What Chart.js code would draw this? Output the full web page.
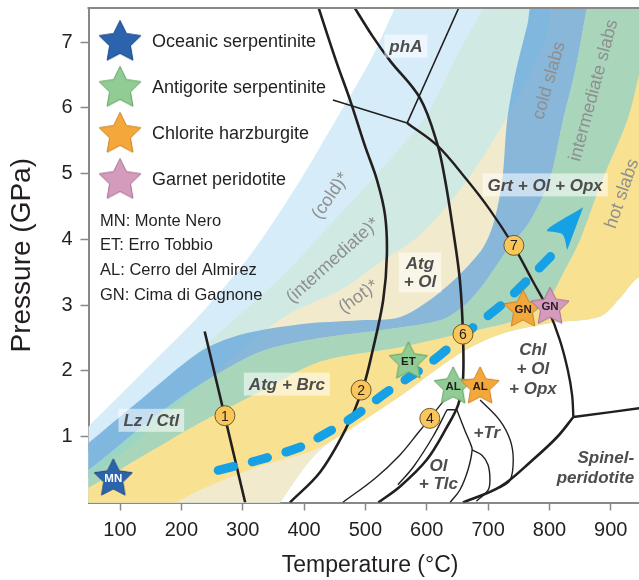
<!DOCTYPE html>
<html>
<head>
<meta charset="utf-8">
<script src="https://cdn.jsdelivr.net/npm/chart.js@4.4.1/dist/chart.umd.min.js"></script>
<style>
  html, body { margin: 0; padding: 0; background: #fff; }
</style>
</head>
<body>
<canvas id="ptChart" width="639" height="580"></canvas>
<script>
'use strict';

// Axis ticks
const tempTicks = [100, 200, 300, 400, 500, 600, 700, 800, 900];
const pressTicks = [1, 2, 3, 4, 5, 6, 7];

// Rock types (legend) and localities
const rockNames = ['Oceanic serpentinite', 'Antigorite serpentinite', 'Chlorite harzburgite', 'Garnet peridotite'];
const rockFill = ['#2b63ad', '#90cc94', '#f4a83c', '#d59bbd'];
const rockEdge = ['#1d4a86', '#62a266', '#c98322', '#a76f90'];
const rockKeyT = [100, 100, 100, 100];
const rockKeyP = [7.03, 6.33, 5.63, 4.93];
const localityNames = ['MN: Monte Nero', 'ET: Erro Tobbio', 'AL: Cerro del Almirez', 'GN: Cima di Gagnone'];
const localityKeyP = [4.29, 3.93, 3.55, 3.17];

// Samples (stars)
const sampleCodes = ['MN', 'ET', 'AL', 'AL', 'GN', 'GN'];
const sampleRock = [0, 1, 1, 2, 2, 3];
const sampleT = [89, 570, 643, 687, 757, 801];
const sampleP = [0.39, 2.17, 1.79, 1.79, 2.96, 3.0];

// Numbered reactions
const reactionNo = [1, 2, 4, 6, 7];
const reactionT = [271, 493, 605, 659, 742];
const reactionP = [1.32, 1.71, 1.28, 2.56, 3.91];

// Geotherm bands (*), boundaries from low T upwards  [T, P]
const coldStarTop = [[-30, 0.42], [48, 1.15], [149, 2.09], [230, 2.85], [312, 3.76], [389, 4.83], [459, 5.93], [508, 6.72], [548, 7.52], [556, 7.71]];
const interStarTop = [[-30, 0.11], [48, 0.77], [149, 1.63], [230, 2.32], [361, 3.41], [442, 4.22], [524, 5.05], [594, 5.81], [622, 6.27], [654, 6.88], [692, 7.52], [698, 7.71]];
const hotStarTop = [[-30, -0.04], [48, 0.37], [149, 1.1], [230, 1.79], [312, 2.42], [372, 2.85], [459, 3.23], [519, 3.62], [589, 4.07], [666, 4.9], [747, 6.12], [793, 7.03], [817, 7.71]];
const hotStarBase = [[-30, -0.57], [336, -0.42], [361, 0], [426, 0.8], [557, 1.62], [654, 2.27], [720, 2.56], [801, 2.73], [883, 2.83], [915, 3.11], [946, 3.43], [1045, 3.84], [1045, 7.71]];

// Slab top P-T paths (cold / intermediate / hot)
const coldSlabTop = [[-30, 0.27], [48, 0.9], [133, 1.56], [230, 2.29], [296, 2.55], [394, 2.71], [491, 2.77], [557, 2.82], [622, 3.2], [687, 3.81], [708, 4.22], [723, 4.9], [731, 5.81], [744, 6.5], [764, 7.26], [777, 7.71]];
const interSlabTop = [[-30, 0.04], [48, 0.49], [149, 1.25], [230, 1.79], [328, 2.29], [426, 2.5], [524, 2.62], [622, 2.77], [662, 3.0], [695, 3.35], [731, 3.84], [769, 4.29], [801, 4.93], [822, 5.81], [842, 6.57], [861, 7.52], [865, 7.71]];
const hotSlabTop = [[-30, -0.11], [48, 0.22], [149, 0.77], [230, 1.21], [328, 1.68], [426, 2.14], [557, 2.36], [662, 2.58], [736, 2.74], [777, 2.9], [801, 3.11], [825, 3.53], [850, 3.99], [886, 4.9], [927, 5.81], [948, 6.57], [972, 7.52], [977, 7.71]];
const hotSlabBase = [[-30, -0.57], [149, -0.19], [230, 0.19], [328, 0.55], [426, 0.84], [557, 1.62], [654, 2.27], [720, 2.56], [801, 2.73], [883, 2.83], [915, 3.11], [946, 3.43], [1045, 3.84], [1045, 7.71]];

// Reaction curves [T, P]
const rxn1 = [[238, 2.6], [304, 0]];
const rxn2 = [[421, 7.6], [452, 6.72], [475, 6.12], [499, 5.43], [519, 4.9], [532, 4.37], [535, 3.76], [529, 3.08], [512, 2.32], [495, 1.71], [467, 1.1], [426, 0.46], [377, 0]];
const atgOut = [[480, 7.56], [511, 7.1], [540, 6.72], [589, 6.15], [617, 5.46], [630, 4.9], [643, 4.14], [654, 3.38], [659, 2.56], [659, 1.86], [651, 1.48], [633, 1.15], [600, 0.65], [556, 0.24], [521, 0]];
const phaOut = [[654, 7.56], [568, 5.77]];
const rxnThinTop = [[447, 6.12], [568, 5.77]];
const rxn7 = [[568, 5.77], [617, 5.43], [666, 4.9], [703, 4.45], [741, 3.91], [772, 3.38], [798, 2.93], [817, 2.47], [830, 2.01], [837, 1.63], [839, 1.3]];
const spinelHigh = [[839, 1.3], [960, 1.45]];
const spinelLow = [[839, 1.3], [813, 1.0], [773, 0.65], [720, 0.24], [659, 0]];
const rxn4 = [[638, 1.66], [622, 1.48], [605, 1.28], [586, 1.06], [556, 0.72], [516, 0.37], [463, 0]];
const tlcInner = [[633, 1.41], [610, 1.0], [578, 0.54], [553, 0.27]];
const tlcStep = [[633, 1.41], [649, 1.41]];
const trLeft = [[649, 1.41], [662, 1.1], [671, 0.9], [674, 0.8], [667, 0.49], [654, 0.19], [638, 0]];
const trRight = [[674, 0.8], [690, 0.72], [700, 0.57], [703, 0.34], [700, 0.19], [681, 0.02]];
const chlOut = [[687, 1.56], [719, 1.25], [736, 0.95], [741, 0.65], [736, 0.34], [719, 0.22]];

// Subduction path arrow
const pathT = [260, 328, 393, 426, 480, 535, 605, 666, 731, 805];
const pathP = [0.49, 0.65, 0.84, 1.0, 1.3, 1.68, 2.12, 2.59, 3.08, 3.77];
const arrowHead = [[855, 4.49], [796, 4.14], [821, 4.08], [829, 3.84]];

const FONT = "'Liberation Sans', Arial, sans-serif";
Chart.defaults.font.family = FONT;

const toXY = arr => arr.map(([x, y]) => ({x, y}));
const polygon = (lower, upper) => toXY(lower.concat(upper.slice().reverse()));

function starImage(radius, fill, stroke) {
    const size = Math.ceil(radius * 2 + 4);
    const c = document.createElement('canvas');
    c.width = size;
    c.height = size;
    const g = c.getContext('2d');
    g.translate(size / 2, size / 2 + radius * 0.1);
    g.beginPath();
    for (let i = 0; i < 10; i++) {
        const r = i % 2 ? radius * 0.5 : radius;
        const a = -Math.PI / 2 + i * Math.PI / 5;
        g.lineTo(r * Math.cos(a), r * Math.sin(a));
    }
    g.closePath();
    g.fillStyle = fill;
    g.fill();
    g.lineWidth = 1;
    g.strokeStyle = stroke;
    g.stroke();
    return c;
}
const starsSmall = rockFill.map((f, i) => starImage(20, f, rockEdge[i]));
const starsKey = rockFill.map((f, i) => starImage(22, f, rockEdge[i]));

const band = (data, color) => ({
    data: data, showLine: true, fill: 'shape', backgroundColor: color,
    borderWidth: 0, borderColor: 'transparent', pointRadius: 0, tension: 0.3
});
const curve = (data, width) => ({
    data: toXY(data), showLine: true, fill: false, borderColor: '#231f20',
    borderWidth: width, pointRadius: 0, tension: 0.35
});

// layers, bottom first
const layers = [
    band(polygon(coldStarTop, hotStarBase), '#d6ecf8'),
    band(polygon(interStarTop, hotStarBase), '#d0eae3'),
    band(polygon(hotStarTop, hotStarBase), '#f2eacd'),
    band(polygon(coldSlabTop, interSlabTop), 'rgba(100,165,220,0.75)'),
    band(polygon(interSlabTop, hotSlabTop), 'rgba(120,200,175,0.6)'),
    band(polygon(hotSlabTop, hotSlabBase), 'rgba(250,220,110,0.65)'),
    curve(rxn1, 2.6),
    curve(rxn2, 2.6),
    curve(atgOut, 2.6),
    curve(phaOut, 1.6),
    curve(rxnThinTop, 1.6),
    curve(rxn7, 2.4),
    curve(spinelHigh, 2.4),
    curve(spinelLow, 2.6),
    curve(rxn4, 1.4),
    curve(tlcInner, 1.4),
    curve(tlcStep, 1.4),
    curve(trLeft, 1.4),
    curve(trRight, 1.4),
    curve(chlOut, 1.4),
    {
        data: pathT.map((t, i) => ({x: t, y: pathP[i]})), showLine: true, fill: false,
        borderColor: '#16a1e4', borderWidth: 9, borderDash: [16, 19], borderCapStyle: 'round',
        pointRadius: 0, tension: 0.3
    },
    band(toXY(arrowHead), '#16a1e4'),
    {
        data: reactionT.map((t, i) => ({x: t, y: reactionP[i]})),
        pointRadius: 10, pointBackgroundColor: '#f8c65a', pointBorderColor: '#6f5b2b', pointBorderWidth: 1
    },
    {
        data: sampleT.map((t, i) => ({x: t, y: sampleP[i]})),
        pointRadius: 20, pointStyle: sampleRock.map(r => starsSmall[r])
    },
    {
        data: rockKeyT.map((t, i) => ({x: t, y: rockKeyP[i]})),
        pointRadius: 22, pointStyle: starsKey
    }
];
layers.forEach((d, i) => { d.order = layers.length - i; });

// text placed on the diagram
const fieldLabels = [
    {lines: ['phA'], t: 566, p: 6.94, box: true},
    {lines: ['Atg', '+ Ol'], t: 589, p: 3.5, box: true, lh: 18},
    {lines: ['Grt + Ol + Opx'], t: 793, p: 4.83, box: true},
    {lines: ['Lz / Ctl'], t: 151, p: 1.25, box: true},
    {lines: ['Atg + Brc'], t: 372, p: 1.8, box: true},
    {lines: ['Chl', '+ Ol', '+ Opx'], t: 773, p: 2.04, lh: 19.5},
    {lines: ['+Tr'], t: 698, p: 1.06},
    {lines: ['Ol', '+ Tlc'], t: 619, p: 0.43, lh: 18},
    {lines: ['Spinel-', 'peridotite'], t: 938, p: 0.54, lh: 20, align: 'right'}
];
const bandLabels = [
    {text: '(cold)*', t: 442, p: 4.67, rot: -56},
    {text: '(intermediate)*', t: 446, p: 3.69, rot: -42},
    {text: '(hot)*', t: 488, p: 3.14, rot: -36},
    {text: 'cold slabs', t: 798, p: 6.42, rot: -74},
    {text: 'intermediate slabs', t: 871, p: 6.27, rot: -75},
    {text: 'hot slabs', t: 917, p: 4.7, rot: -71}
];

function drawText(ctx, x, y, lines, o) {
    ctx.save();
    ctx.translate(x, y);
    if (o.rot) ctx.rotate(o.rot * Math.PI / 180);
    ctx.font = o.font;
    ctx.textAlign = o.align || 'center';
    ctx.textBaseline = 'middle';
    const lh = o.lh || 19;
    const h = lh * lines.length;
    if (o.box) {
        const w = Math.max(...lines.map(l => ctx.measureText(l).width));
        ctx.fillStyle = 'rgba(255,255,255,0.55)';
        ctx.fillRect(-w / 2 - 5, -h / 2 - 2, w + 10, h + 4);
    }
    ctx.fillStyle = o.color;
    lines.forEach((l, i) => ctx.fillText(l, 0, -h / 2 + lh * (i + 0.5) + 1));
    ctx.restore();
}

const annotations = {
    id: 'annotations',
    afterDatasetsDraw(chart) {
        const {ctx, chartArea, scales: {x, y}} = chart;
        const px = t => x.getPixelForValue(t);
        const py = p => y.getPixelForValue(p);

        // top frame
        ctx.save();
        ctx.strokeStyle = '#888';
        ctx.lineWidth = 2;
        ctx.beginPath();
        ctx.moveTo(chartArea.left - 1, chartArea.top);
        ctx.lineTo(chartArea.right, chartArea.top);
        ctx.stroke();
        ctx.restore();

        bandLabels.forEach(b => drawText(ctx, px(b.t), py(b.p), [b.text],
            {font: '18px ' + FONT, color: '#8f8f8f', rot: b.rot}));
        fieldLabels.forEach(f => drawText(ctx, px(f.t), py(f.p), f.lines,
            {font: 'italic bold 17px ' + FONT, color: '#4d4d4d', box: f.box, lh: f.lh, align: f.align}));

        reactionNo.forEach((n, i) => drawText(ctx, px(reactionT[i]), py(reactionP[i]), [String(n)],
            {font: '14px ' + FONT, color: '#231f20'}));
        sampleCodes.forEach((c, i) => drawText(ctx, px(sampleT[i]), py(sampleP[i]) + 1, [c],
            {font: 'bold 11.5px ' + FONT, color: sampleRock[i] === 0 ? '#fff' : '#231f20'}));

        rockNames.forEach((name, i) => drawText(ctx, px(rockKeyT[i]) + 32, py(rockKeyP[i]) + 1, [name],
            {font: '18px ' + FONT, color: '#231f20', align: 'left'}));
        localityNames.forEach((name, i) => drawText(ctx, px(rockKeyT[i]) - 20, py(localityKeyP[i]), [name],
            {font: '16.5px ' + FONT, color: '#231f20', align: 'left'}));
    }
};

const axisStyle = {
    grid: {display: true, drawOnChartArea: false, drawTicks: true, tickLength: 8, color: '#888', tickWidth: 1.5},
    border: {display: true, color: '#888', width: 2}
};

new Chart(document.getElementById('ptChart'), {
    type: 'scatter',
    data: {datasets: layers},
    options: {
        responsive: false,
        animation: false,
        events: [],
        layout: {autoPadding: false, padding: {top: 8, right: 0, left: 0, bottom: 0}},
        elements: {line: {capBezierPoints: false}},
        plugins: {legend: {display: false}, tooltip: {enabled: false}},
        scales: {
            x: {
                ...axisStyle,
                min: 48.6,
                max: 946,
                afterBuildTicks: s => { s.ticks = tempTicks.map(v => ({value: v})); },
                afterFit: s => { s.height = 77.5; s.paddingLeft = 0; s.paddingRight = 0; },
                ticks: {font: {size: 20}, color: '#231f20', padding: 8},
                title: {display: true, text: '  Temperature (°C)', font: {size: 23}, color: '#231f20', padding: {top: 0, bottom: 1}}
            },
            y: {
                ...axisStyle,
                min: 0,
                max: 7.52,
                afterBuildTicks: s => { s.ticks = pressTicks.map(v => ({value: v})); },
                afterFit: s => { s.width = 88.5; s.paddingTop = 0; s.paddingBottom = 0; },
                ticks: {font: {size: 20}, color: '#231f20', padding: 8},
                title: {display: true, text: 'Pressure (GPa)', font: {size: 28}, color: '#231f20', padding: {top: 5, bottom: 0}}
            }
        }
    },
    plugins: [annotations]
});
</script>
</body>
</html>
